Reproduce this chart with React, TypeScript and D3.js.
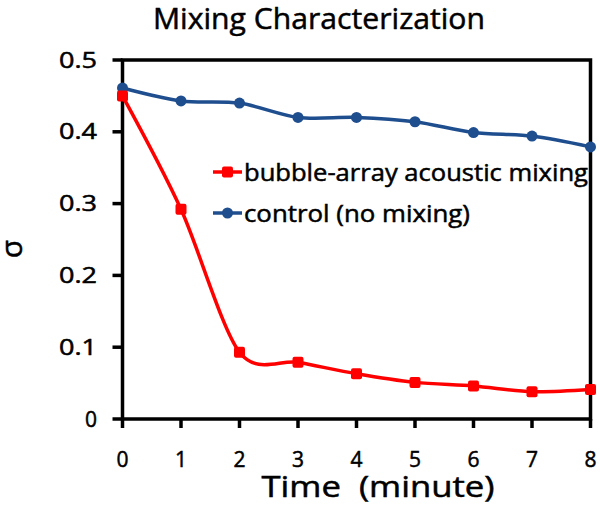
import React from "react";
import * as d3 from "d3";

const times = [0, 1, 2, 3, 4, 5, 6, 7, 8];
const bubbleMixing = [0.45, 0.292, 0.093, 0.079, 0.063, 0.051, 0.046, 0.038, 0.041];
const controlNoMixing = [0.461, 0.443, 0.44, 0.42, 0.42, 0.414, 0.399, 0.394, 0.379];
const yTicks = [0, 0.1, 0.2, 0.3, 0.4, 0.5];
const xTicks = [0, 1, 2, 3, 4, 5, 6, 7, 8];
const seriesNames = ["bubble-array acoustic mixing", "control (no mixing)"];
const seriesColors = ["#ff0000", "#1f4e8f"];

const W = 600;
const H = 508;
const left = 122.5;
const right = 590.5;
const top = 60;
const bottom = 419;
const FONT = "'Open Sans', sans-serif";
const txt = { stroke: "#000", strokeWidth: 0.5, fill: "#000" };

export default function App() {
  const x = d3.scaleLinear().domain([0, 8]).range([left, right]);
  const y = d3.scaleLinear().domain([0, 0.5]).range([bottom, top]);
  const line = d3
    .line<number>()
    .x((_, i) => x(times[i]))
    .y((d) => y(d))
    .curve(d3.curveCardinal.tension(0.1));

  return (
    <svg
      width={W}
      height={H}
      style={{ position: "absolute", left: 0, top: 0, background: "#fff" }}
      fontFamily={FONT}
    >
      <text x={319} y={29} textAnchor="middle" fontSize={29} {...txt} textLength={332} lengthAdjust="spacingAndGlyphs">
        Mixing Characterization
      </text>

      {/* plot frame */}
      <rect x={left} y={top} width={right - left} height={bottom - top} fill="none" stroke="#000" strokeWidth={3.5} />

      {/* y ticks */}
      {yTicks.map((t) => (
        <g key={"y" + t}>
          <line x1={left - 10} x2={left} y1={y(t)} y2={y(t)} stroke="#000" strokeWidth={3.5} />
          <text
            x={97}
            y={y(t)}
            dy="0.36em"
            textAnchor="end"
            fontSize={21}
            {...txt}
            {...(t === 0 ? {} : { textLength: 38, lengthAdjust: "spacingAndGlyphs" })}
          >
            {t === 0 ? "0" : t.toFixed(1)}
          </text>
        </g>
      ))}

      {/* x ticks */}
      {xTicks.map((t) => (
        <g key={"x" + t}>
          <line x1={x(t)} x2={x(t)} y1={bottom} y2={bottom + 9} stroke="#000" strokeWidth={3.5} />
          <text x={x(t)} y={467} textAnchor="middle" fontSize={21} {...txt}>
            {t}
          </text>
        </g>
      ))}

      {/* axis titles */}
      <text x={378} y={497} textAnchor="middle" fontSize={29} {...txt} style={{ whiteSpace: "pre" }} textLength={233} lengthAdjust="spacingAndGlyphs">
        {"Time  (minute)"}
      </text>
      <text transform={`translate(22,249) rotate(-90)`} textAnchor="middle" fontSize={30} {...txt}>
        σ
      </text>

      {/* series */}
      <path d={line(controlNoMixing) || ""} fill="none" stroke={seriesColors[1]} strokeWidth={3.5} />
      <path d={line(bubbleMixing) || ""} fill="none" stroke={seriesColors[0]} strokeWidth={3.5} />

      {controlNoMixing.map((v, i) => (
        <circle key={"c" + i} cx={x(times[i])} cy={y(v)} r={5.5} fill={seriesColors[1]} />
      ))}
      {bubbleMixing.map((v, i) => (
        <rect key={"b" + i} x={x(times[i]) - 5.5} y={y(v) - 5.5} width={11} height={11} rx={2} fill={seriesColors[0]} />
      ))}

      {/* legend */}
      <g>
        <line x1={213} x2={242} y1={172} y2={172} stroke={seriesColors[0]} strokeWidth={3.5} />
        <rect x={222} y={166.5} width={11} height={11} rx={2} fill={seriesColors[0]} />
        <text x={244} y={181} fontSize={23} {...txt} textLength={344} lengthAdjust="spacingAndGlyphs">
          {seriesNames[0]}
        </text>
        <line x1={213} x2={242} y1={213} y2={213} stroke={seriesColors[1]} strokeWidth={3.5} />
        <circle cx={227.5} cy={213} r={5.5} fill={seriesColors[1]} />
        <text x={244} y={222} fontSize={23} {...txt} textLength={226} lengthAdjust="spacingAndGlyphs">
          {seriesNames[1]}
        </text>
      </g>
    </svg>
  );
}
